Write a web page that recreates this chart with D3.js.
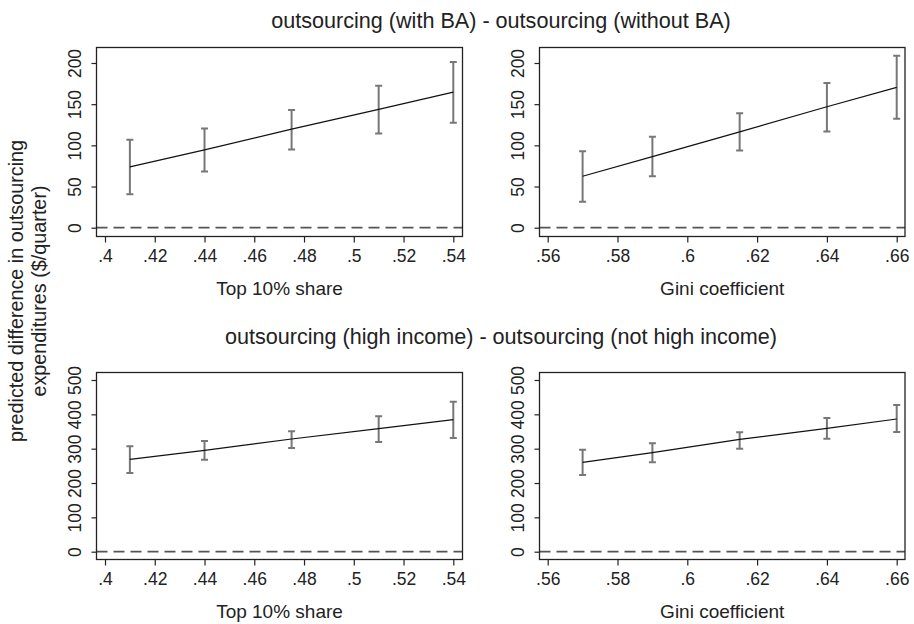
<!DOCTYPE html>
<meta charset="utf-8">
<style>
  body { margin: 0; background: #fff; }
  text { font-family: "Liberation Sans", Arial, sans-serif; fill: #222; }
  .frame { fill: none; stroke: #222; stroke-width: 1.3px; }
  .tick line { stroke: #222; stroke-width: 1.2px; }
  .domain { display: none; }
  .zero { stroke: #555; stroke-width: 1.8px; stroke-dasharray: 11 6; }
  .ci { stroke: #777; stroke-width: 2px; fill: none; }
  .fit { stroke: #111; stroke-width: 1.2px; fill: none; }
</style>
<body>
<svg width="914" height="624"></svg>
<script src="https://cdn.jsdelivr.net/npm/d3@7"></script>
<script>

// Data
var top10X = [0.41, 0.44, 0.475, 0.51, 0.54];
var giniX = [0.57, 0.59, 0.615, 0.64, 0.66];

var top10Ticks = [0.4, 0.42, 0.44, 0.46, 0.48, 0.5, 0.52, 0.54];
var giniTicks = [0.56, 0.58, 0.6, 0.62, 0.64, 0.66];
var baTicks = [0, 50, 100, 150, 200];
var incomeTicks = [0, 100, 200, 300, 400, 500];

// BA difference
var baTop10Mean = [73.8, 94.5, 119.7, 143.6, 164.7];
var baTop10Lo = [40.6, 68.2, 94.9, 114.4, 127.4];
var baTop10Hi = [106.7, 120.5, 142.8, 172.4, 201.2];

var baGiniMean = [62.5, 86.4, 116.4, 146.9, 170.4];
var baGiniLo = [31.6, 62.5, 93.7, 116.8, 132.3];
var baGiniHi = [92.9, 110.3, 139.1, 175.7, 208.9];

// high income difference
var incTop10Mean = [268.9, 295.1, 328.2, 358.3, 384.5];
var incTop10Lo = [229.1, 267.9, 301.9, 319.4, 331.1];
var incTop10Hi = [306.8, 322.3, 350.5, 394.2, 436.9];

var incGiniMean = [260.2, 288.3, 327.2, 359.2, 386.4];
var incGiniLo = [223.3, 260.2, 300.0, 329.1, 348.5];
var incGiniHi = [297.1, 315.5, 347.6, 389.3, 427.2];

var titles = ["outsourcing (with BA) - outsourcing (without BA)",
              "outsourcing (high income) - outsourcing (not high income)"];
var yTitle = ["predicted difference in outsourcing", "expenditures ($/quarter)"];

const svg = d3.select('svg');
const FONT = '"Liberation Sans", Arial, sans-serif';

// .54 style labels, no leading zero
function fmt(d) {
  return String(+d.toFixed(2)).replace(/^0\./, ".");
}

// one panel: frame box, axes, zero line, error bars, fitted line
function panel(box, xs, mean, lo, hi, xTicks, yTicks, xDom, xRange, yDom, yRange, xTitle) {
  const x = d3.scaleLinear().domain(xDom).range(xRange);
  const y = d3.scaleLinear().domain(yDom).range(yRange);
  const g = svg.append('g');

  g.append('line').attr('class', 'zero')
    .attr('x1', box.x0).attr('x2', box.x1)
    .attr('y1', y(0)).attr('y2', y(0));

  // y axis, labels turned on their side like Stata
  g.append('g')
    .attr('transform', `translate(${box.x0},0)`)
    .call(d3.axisLeft(y).tickValues(yTicks).tickSize(5).tickFormat(d3.format("d")))
    .call(a => a.selectAll('.tick text')
      .attr('x', 0).attr('y', 0).attr('dy', '0.35em')
      .attr('transform', 'translate(-22,0) rotate(-90)')
      .attr('text-anchor', 'middle')
      .style('font-size', '17.5px').style('fill', '#222').style('font-family', FONT));

  g.append('g')
    .attr('transform', `translate(0,${box.y1})`)
    .call(d3.axisBottom(x).tickValues(xTicks).tickSize(6).tickPadding(7).tickFormat(fmt))
    .call(a => a.selectAll('text')
      .style('font-size', '17.5px').style('fill', '#222').style('font-family', FONT));

  g.append('rect').attr('class', 'frame')
    .attr('x', box.x0).attr('y', box.y0)
    .attr('width', box.x1 - box.x0).attr('height', box.y1 - box.y0);

  const pts = xs.map((v, i) => ({x: v, m: mean[i], lo: lo[i], hi: hi[i]}));

  g.selectAll('.ci').data(pts).enter().append('path')
    .attr('class', 'ci')
    .attr('d', d => `M${x(d.x)},${y(d.lo)}V${y(d.hi)}` +
      `M${x(d.x) - 3.5},${y(d.lo)}H${x(d.x) + 3.5}` +
      `M${x(d.x) - 3.5},${y(d.hi)}H${x(d.x) + 3.5}`);

  g.append('path').datum(pts).attr('class', 'fit')
    .attr('d', d3.line().x(d => x(d.x)).y(d => y(d.m)));

  g.append('text')
    .attr('x', (box.x0 + box.x1) / 2).attr('y', box.y1 + 58)
    .attr('text-anchor', 'middle')
    .style('font-size', '19px')
    .text(xTitle);
}

const topBox = {y0: 47.5, y1: 236.5};
const botBox = {y0: 372.5, y1: 559.5};
const L = {x0: 96.5, x1: 462.5}, R = {x0: 539.5, x1: 905};

panel(Object.assign({}, L, topBox), top10X, baTop10Mean, baTop10Lo, baTop10Hi,
  top10Ticks, baTicks, [0.4, 0.54], [105, 453.3], [0, 200], [227.7, 63], "Top 10% share");
panel(Object.assign({}, R, topBox), giniX, baGiniMean, baGiniLo, baGiniHi,
  giniTicks, baTicks, [0.56, 0.66], [547.7, 896.7], [0, 200], [227.7, 63], "Gini coefficient");
panel(Object.assign({}, L, botBox), top10X, incTop10Mean, incTop10Lo, incTop10Hi,
  top10Ticks, incomeTicks, [0.4, 0.54], [105, 453.3], [0, 500], [551.7, 380], "Top 10% share");
panel(Object.assign({}, R, botBox), giniX, incGiniMean, incGiniLo, incGiniHi,
  giniTicks, incomeTicks, [0.56, 0.66], [547.7, 896.7], [0, 500], [551.7, 380], "Gini coefficient");

// row titles
svg.append('text').attr('x', 501).attr('y', 28).attr('text-anchor', 'middle')
  .style('font-size', '21.6px').text(titles[0]);
svg.append('text').attr('x', 501).attr('y', 344).attr('text-anchor', 'middle')
  .style('font-size', '21.6px').text(titles[1]);

// common y title, two lines
svg.append('g').attr('transform', 'translate(23,291) rotate(-90)')
  .selectAll('text').data(yTitle).enter().append('text')
  .attr('x', 0).attr('y', (d, i) => i * 23)
  .attr('text-anchor', 'middle')
  .style('font-size', '19.8px')
  .text(d => d);

</script>
</body>
